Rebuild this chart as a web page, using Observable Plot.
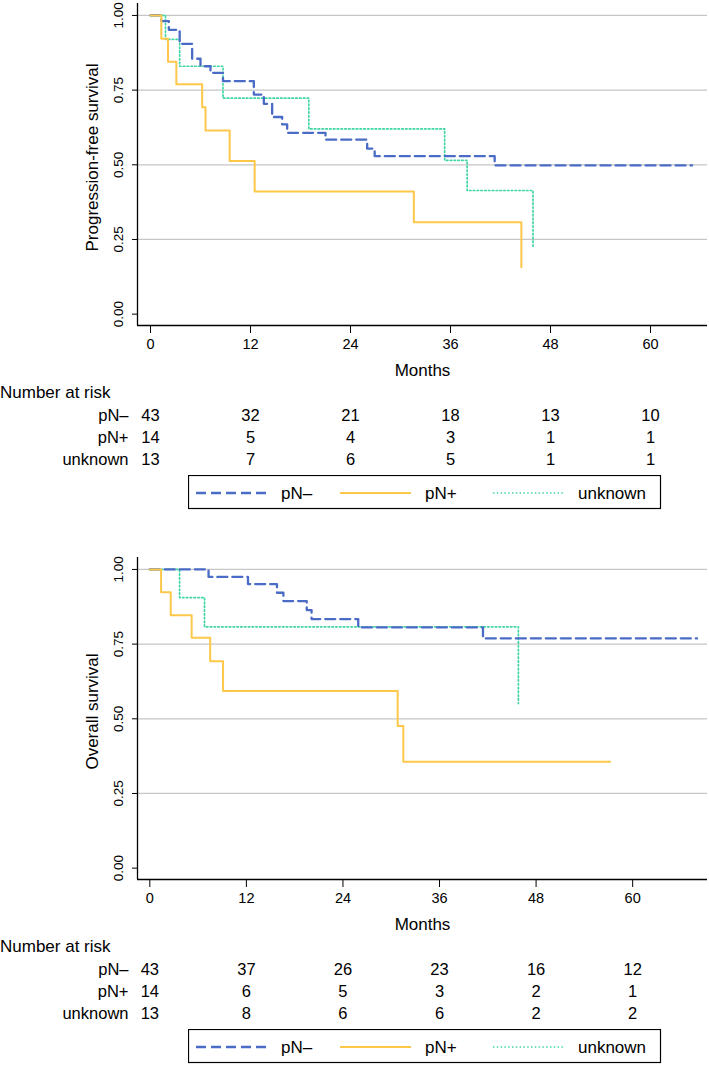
<!DOCTYPE html>
<html><head><meta charset="utf-8">
<script src="https://cdn.jsdelivr.net/npm/d3@7"></script>
<script src="https://cdn.jsdelivr.net/npm/@observablehq/plot@0.6"></script>
<style>
body{margin:0;background:#fff;font-family:"Liberation Sans",Arial,sans-serif;}
#root{position:relative;width:709px;height:1065px;overflow:hidden;background:#fff;}
.abs{position:absolute;}
.hdr{font-size:17px;line-height:20px;white-space:nowrap;color:#000;}
</style></head><body><div id="root"></div>
<script>
const groups = ["pN–", "pN+", "unknown"];
const colors = ["#4A6BC6", "#FDC849", "#40D6A2"];
const dashes = ["10,5", null, "1.5,2.3"];
const widths = [2.3, 2, 1.7];
const xTicks = [0, 12, 24, 36, 48, 60];
const yTicks = [0, 0.25, 0.5, 0.75, 1];
const gridVals = [0.25, 0.5, 0.75, 1];
const yDom = [-0.038, 1.04];

// Progression-free survival
const pfsXDom = [-1.56, 66.84];
const pfsNegT = [0, 1.3, 2.2, 3.5, 5.0, 6.0, 7.2, 8.7, 12.4, 13.6, 14.6, 15.8, 16.4, 21.0, 26.0, 26.9, 41.3, 65.0];
const pfsNegS = [1, 0.981, 0.952, 0.905, 0.855, 0.830, 0.808, 0.780, 0.735, 0.704, 0.660, 0.635, 0.607, 0.584, 0.554, 0.529, 0.498, 0.498];
const pfsPosT = [0, 1.3, 2.1, 3.1, 6.2, 6.6, 9.5, 12.5, 31.6, 44.5];
const pfsPosS = [1, 0.922, 0.845, 0.770, 0.693, 0.615, 0.513, 0.411, 0.308, 0.157];
const pfsUnkT = [0, 1.8, 3.5, 8.7, 19.0, 35.3, 38.0, 45.9];
const pfsUnkS = [1, 0.920, 0.830, 0.723, 0.620, 0.515, 0.414, 0.222];
const pfsRiskNeg = [43, 32, 21, 18, 13, 10];
const pfsRiskPos = [14, 5, 4, 3, 1, 1];
const pfsRiskUnk = [13, 7, 6, 5, 1, 1];

// Overall survival
const osXDom = [-1.53, 69.3];
const osNegT = [0, 7.3, 12.2, 15.8, 16.6, 19.5, 20.1, 25.9, 41.4, 68.0];
const osNegS = [1, 0.975, 0.951, 0.922, 0.894, 0.864, 0.834, 0.806, 0.769, 0.769];
const osPosT = [0, 1.4, 2.6, 5.2, 7.5, 9.1, 30.8, 31.5, 57.2];
const osPosS = [1, 0.924, 0.847, 0.771, 0.693, 0.593, 0.476, 0.356, 0.356];
const osUnkT = [0, 3.7, 6.8, 45.8];
const osUnkS = [1, 0.906, 0.808, 0.551];
const osRiskNeg = [43, 37, 26, 23, 16, 12];
const osRiskPos = [14, 6, 5, 3, 2, 1];
const osRiskUnk = [13, 8, 6, 6, 2, 2];

const FF = "Liberation Sans, Arial, sans-serif";
const root = document.getElementById("root");

function panel(top, cfg) {
  const series = cfg.curves.map((c, i) => c.t.map((t, j) => ({t, s: c.s[j], g: groups[i]})));
  const order = [2, 0, 1];
  const chart = Plot.plot({
    width: 709, height: 380,
    marginLeft: 137, marginRight: 2, marginTop: 3, marginBottom: 55,
    style: {fontFamily: FF, fontSize: "14.5px", background: "transparent", color: "black", overflow: "visible"},
    x: {domain: cfg.xdom, ticks: xTicks, tickSize: 8, tickPadding: 5, label: null, tickFormat: d => String(d)},
    y: {domain: yDom, ticks: yTicks, tickSize: 5, tickFormat: () => "", label: null},
    marks: [
      Plot.ruleY(gridVals, {stroke: "#c6c6c6", strokeWidth: 1.2}),
      ...order.map(i => Plot.line(series[i], {x: "t", y: "s", curve: "step-after", stroke: colors[i], strokeWidth: widths[i], strokeDasharray: dashes[i]})),
      Plot.ruleX([cfg.xdom[0]], {stroke: "black", strokeWidth: 1.3}),
      Plot.ruleY([yDom[0]], {stroke: "black", strokeWidth: 1.3}),
      Plot.text(yTicks, {y: d => d, frameAnchor: "left", dx: -19, rotate: -90, textAnchor: "middle", lineAnchor: "middle", text: d => d.toFixed(2), fontSize: 13.5}),
      Plot.text([cfg.ytitle], {frameAnchor: "left", dx: -45, dy: -7, rotate: -90, textAnchor: "middle", lineAnchor: "middle", fontSize: 17}),
      Plot.text(["Months"], {frameAnchor: "bottom", dy: 45, textAnchor: "middle", lineAnchor: "middle", fontSize: 17})
    ]
  });
  chart.classList.add("abs");
  chart.style.left = "0px"; chart.style.top = top + "px";
  root.appendChild(chart);

  const hdr = document.createElement("div");
  hdr.className = "abs hdr";
  hdr.textContent = "Number at risk";
  hdr.style.left = "0px"; hdr.style.top = (top + 383) + "px";
  root.appendChild(hdr);

  const rows = groups.flatMap((g, i) => xTicks.map((t, j) => ({t, g, n: cfg.risk[i][j]})));
  const risk = Plot.plot({
    width: 709, height: 66,
    marginLeft: 137, marginRight: 2, marginTop: 0, marginBottom: 0,
    style: {fontFamily: FF, fontSize: "16.5px", background: "transparent", color: "black"},
    x: {domain: cfg.xdom, axis: null},
    y: {type: "point", domain: groups, range: [11, 55], padding: 0, tickSize: 0, tickPadding: 9, label: null},
    marks: [Plot.text(rows, {x: "t", y: "g", text: "n", fontSize: 16.5})]
  });
  risk.classList.add("abs");
  risk.style.left = "0px"; risk.style.top = (top + 404) + "px";
  root.appendChild(risk);

  const lg = d3.create("svg").attr("width", 474).attr("height", 36)
    .attr("class", "abs").style("left", "188px").style("top", (top + 475) + "px")
    .style("font-family", FF).style("font-size", "17px");
  lg.append("rect").attr("x", 0.5).attr("y", 0.5).attr("width", 472).attr("height", 33)
    .attr("fill", "white").attr("stroke", "black").attr("stroke-width", 1.2);
  const lx = [8, 152, 305];
  groups.forEach((g, i) => {
    lg.append("line").attr("x1", lx[i]).attr("x2", lx[i] + 71).attr("y1", 18).attr("y2", 18)
      .attr("stroke", colors[i]).attr("stroke-width", widths[i])
      .attr("stroke-dasharray", dashes[i]);
    lg.append("text").attr("x", lx[i] + 85).attr("y", 18).attr("dy", "0.35em").text(g);
  });
  root.appendChild(lg.node());
}

panel(0, {
  ytitle: "Progression-free survival", xdom: pfsXDom,
  curves: [{t: pfsNegT, s: pfsNegS}, {t: pfsPosT, s: pfsPosS}, {t: pfsUnkT, s: pfsUnkS}],
  risk: [pfsRiskNeg, pfsRiskPos, pfsRiskUnk]
});
panel(554, {
  ytitle: "Overall survival", xdom: osXDom,
  curves: [{t: osNegT, s: osNegS}, {t: osPosT, s: osPosS}, {t: osUnkT, s: osUnkS}],
  risk: [osRiskNeg, osRiskPos, osRiskUnk]
});
</script></body></html>
